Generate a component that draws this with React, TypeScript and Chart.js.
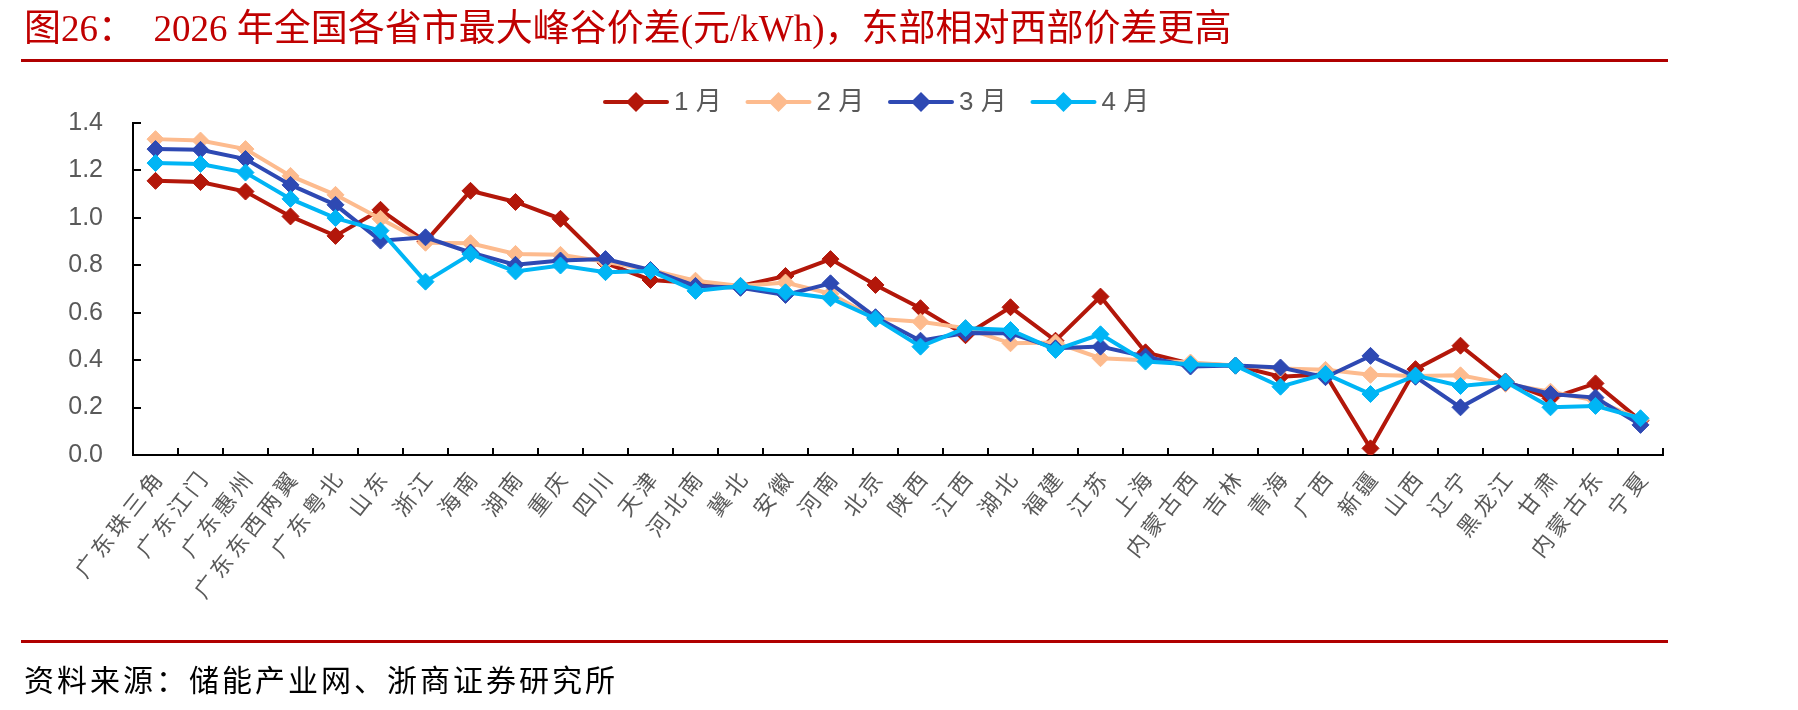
import React, { useEffect, useRef } from "react";
import { Chart, registerables } from "chart.js";

Chart.register(...registerables);

const categories = [
  "广东珠三角", "广东江门", "广东惠州", "广东东西两翼", "广东粤北", "山东", "浙江", "海南", "湖南", "重庆",
  "四川", "天津", "河北南", "冀北", "安徽", "河南", "北京", "陕西", "江西", "湖北",
  "福建", "江苏", "上海", "内蒙古西", "吉林", "青海", "广西", "新疆", "山西", "辽宁",
  "黑龙江", "甘肃", "内蒙古东", "宁夏",
];

const seriesNames = ["1 月", "2 月", "3 月", "4 月"];

const jan = [1.156, 1.151, 1.111, 1.006, 0.924, 1.034, 0.9, 1.114, 1.067, 0.996, 0.81, 0.738, 0.725, 0.713, 0.755, 0.826, 0.717, 0.619, 0.505, 0.623, 0.482, 0.668, 0.433, 0.385, 0.377, 0.33, 0.34, 0.028, 0.362, 0.461, 0.31, 0.239, 0.302, 0.145];
const feb = [1.332, 1.326, 1.29, 1.177, 1.097, 0.996, 0.895, 0.893, 0.848, 0.844, 0.815, 0.78, 0.735, 0.713, 0.727, 0.68, 0.575, 0.562, 0.535, 0.471, 0.474, 0.408, 0.4, 0.39, 0.377, 0.365, 0.359, 0.338, 0.333, 0.336, 0.3, 0.267, 0.23, 0.15];
const mar = [1.29, 1.287, 1.248, 1.139, 1.055, 0.904, 0.918, 0.854, 0.802, 0.82, 0.826, 0.78, 0.713, 0.705, 0.675, 0.724, 0.581, 0.482, 0.514, 0.513, 0.45, 0.457, 0.415, 0.373, 0.377, 0.369, 0.328, 0.418, 0.33, 0.201, 0.305, 0.257, 0.242, 0.127];
const apr = [1.231, 1.227, 1.191, 1.08, 0.999, 0.946, 0.731, 0.847, 0.774, 0.799, 0.771, 0.776, 0.692, 0.713, 0.686, 0.661, 0.575, 0.457, 0.535, 0.527, 0.443, 0.509, 0.394, 0.383, 0.377, 0.288, 0.342, 0.257, 0.335, 0.291, 0.309, 0.201, 0.207, 0.155];

const yMin = 0;
const yMax = 1.4;
const yStep = 0.2;

const colors = ["#B3170A", "#FDBB8E", "#2E49B3", "#00B5F5"];

const TITLE_PARTS: [string, boolean][] = [
  ["图", true], ["26", false], ["：", true], ["  2026 ", false], ["年全国各省市最大峰谷价差", true],
  ["(", false], ["元", true], ["/kWh)", false], ["，东部相对西部价差更高", true],
];
const SOURCE = "资料来源：储能产业网、浙商证券研究所";

const W = 1798;
const H = 710;
const LABEL_ANGLE = 52;

function drawDiamond(ctx: CanvasRenderingContext2D, x: number, y: number, r: number, color: string) {
  ctx.beginPath();
  ctx.moveTo(x - r, y);
  ctx.lineTo(x, y - r);
  ctx.lineTo(x + r, y);
  ctx.lineTo(x, y + r);
  ctx.closePath();
  ctx.fillStyle = color;
  ctx.fill();
}

const innerTicks = {
  id: "innerTicks",
  afterDraw(chart: any) {
    const ctx = chart.ctx as CanvasRenderingContext2D;
    const xs = chart.scales.x;
    const ys = chart.scales.y;
    ctx.save();
    ctx.strokeStyle = "#000";
    ctx.lineWidth = 2;
    ys.ticks.forEach((t: any) => {
      const y = Math.round(ys.getPixelForValue(t.value));
      ctx.beginPath();
      ctx.moveTo(ys.right, y);
      ctx.lineTo(ys.right + 8, y);
      ctx.stroke();
    });
    const n = categories.length;
    for (let i = 0; i <= n; i++) {
      const x = Math.round(xs.left + (i * (xs.right - xs.left)) / n);
      ctx.beginPath();
      ctx.moveTo(x, xs.top);
      ctx.lineTo(x, xs.top - 7);
      ctx.stroke();
    }
    ctx.restore();
  },
};

const xLabels = {
  id: "xLabels",
  afterDraw(chart: any) {
    const ctx = chart.ctx as CanvasRenderingContext2D;
    const xs = chart.scales.x;
    ctx.save();
    ctx.fillStyle = "#595959";
    ctx.font = "22px 'Noto Sans CJK SC', sans-serif";
    (ctx as any).letterSpacing = "4px";
    ctx.textAlign = "right";
    ctx.textBaseline = "middle";
    categories.forEach((label, i) => {
      const x = xs.getPixelForValue(i);
      ctx.save();
      ctx.translate(x + 4, xs.top + 17);
      ctx.rotate((-LABEL_ANGLE * Math.PI) / 180);
      ctx.fillText(label, 0, 0);
      ctx.restore();
    });
    ctx.restore();
  },
};

const customLegend = {
  id: "customLegend",
  afterDraw(chart: any) {
    const ctx = chart.ctx as CanvasRenderingContext2D;
    const startX = 605;
    const gap = 142.5;
    const y = 102;
    const lineLen = 62;
    ctx.save();
    ctx.font = "26px 'Liberation Sans', 'Noto Sans CJK SC', sans-serif";
    ctx.textBaseline = "middle";
    ctx.textAlign = "left";
    chart.data.datasets.forEach((ds: any, i: number) => {
      const x0 = startX + i * gap;
      ctx.strokeStyle = ds.borderColor;
      ctx.lineWidth = 4;
      ctx.lineCap = "round";
      ctx.beginPath();
      ctx.moveTo(x0, y);
      ctx.lineTo(x0 + lineLen, y);
      ctx.stroke();
      drawDiamond(ctx, x0 + lineLen / 2, y, 10, ds.borderColor);
      ctx.fillStyle = "#595959";
      ctx.fillText(ds.label, x0 + lineLen + 7, y + 1);
    });
    ctx.restore();
  },
};

export default function App() {
  const ref = useRef<HTMLCanvasElement>(null);

  useEffect(() => {
    if (!ref.current) return;
    const seriesData = [jan, feb, mar, apr];
    const chart = new Chart(ref.current, {
      type: "line",
      data: {
        labels: categories,
        datasets: seriesData.map((d, i) => ({
          label: seriesNames[i],
          data: d,
          borderColor: colors[i],
          backgroundColor: colors[i],
          borderWidth: 4,
          pointStyle: "rectRot",
          pointRadius: 8.5,
          pointBorderWidth: 1,
          pointBackgroundColor: colors[i],
          pointBorderColor: colors[i],
          tension: 0,
          fill: false,
          order: 3 - i,
        })),
      },
      options: {
        responsive: false,
        animation: false,
        layout: { padding: { top: 123, right: 135, left: 0, bottom: 0 } },
        plugins: {
          legend: { display: false },
          title: { display: false },
          tooltip: { enabled: false },
        },
        scales: {
          x: {
            type: "category",
            offset: true,
            grid: { display: false, drawTicks: false, offset: true },
            border: { display: true, color: "#000", width: 2 },
            ticks: { display: false },
            afterFit(scale: any) {
              scale.height = 255;
            },
          },
          y: {
            min: yMin,
            max: yMax,
            grid: { display: false, drawTicks: false },
            border: { display: true, color: "#000", width: 2 },
            ticks: {
              stepSize: yStep,
              padding: 30,
              color: "#595959",
              font: { family: "'Liberation Sans', Arial, sans-serif", size: 25 },
              callback: (v: any) => Number(v).toFixed(1),
            },
            afterFit(scale: any) {
              scale.width = 133;
            },
          },
        },
      },
      plugins: [innerTicks, xLabels, customLegend],
    });
    return () => chart.destroy();
  }, []);

  return (
    <div style={{ position: "fixed", left: 0, top: 0, width: W, height: H, background: "#fff", overflow: "hidden" }}>
      <canvas ref={ref} width={W} height={H} style={{ position: "absolute", left: 0, top: 0, width: W, height: H }} />
      <div
        style={{
          position: "absolute",
          left: 24,
          top: 3,
          fontSize: 37,
          color: "#C00000",
          whiteSpace: "pre",
          lineHeight: "44px",
        }}
      >
        {TITLE_PARTS.map(([t, cjk], i) => (
          <span
            key={i}
            style={{ fontFamily: cjk ? "'Noto Sans CJK SC', sans-serif" : "'Liberation Serif', serif" }}
          >
            {t}
          </span>
        ))}
      </div>
      <div style={{ position: "absolute", left: 21, top: 59, width: 1647, height: 3, background: "#B00000" }} />
      <div style={{ position: "absolute", left: 21, top: 640, width: 1647, height: 3, background: "#B00000" }} />
      <div
        style={{
          position: "absolute",
          left: 24,
          top: 658,
          fontSize: 30,
          letterSpacing: 3,
          color: "#000",
          fontFamily: "'Noto Sans CJK SC', sans-serif",
          whiteSpace: "pre",
          lineHeight: "40px",
        }}
      >
        {SOURCE}
      </div>
    </div>
  );
}
